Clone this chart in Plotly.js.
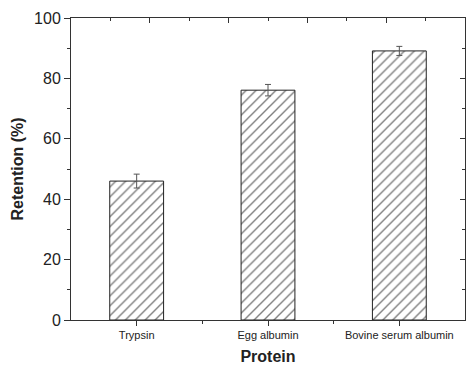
<!DOCTYPE html>
<html>
<head>
<meta charset="utf-8">
<script src="https://cdn.plot.ly/plotly-3.0.1.min.js"></script>
<style>html,body{margin:0;padding:0;background:#fff}#chart{width:466px;height:365px}</style>
</head>
<body>
<div id="chart"></div>
<script>
const categories = ["Trypsin", "Egg albumin", "Bovine serum albumin"];
const retention = [46.0, 76.1, 89.1];
const retentionError = [2.3, 1.9, 1.5];
const yTickStep = 20;

const positions = categories.map((c, i) => i);
const FONT = '"Liberation Sans", Arial, sans-serif';
const AX = '#333333';

const data = [{
  type: 'bar',
  x: positions,
  y: retention,
  width: 0.41,
  marker: {
    color: '#ffffff',
    line: {color: '#222222', width: 1},
    pattern: {shape: '/', fgcolor: '#000000', bgcolor: '#ffffff', size: 7, solidity: 0.2, fillmode: 'overlay'}
  },
  error_y: {type: 'data', array: retentionError, visible: true, color: '#555555', thickness: 1, width: 3},
  hoverinfo: 'skip',
  showlegend: false
}, {
  type: 'scatter', x: [], y: [], xaxis: 'x2', yaxis: 'y2',
  mode: 'markers', hoverinfo: 'skip', showlegend: false
}];

const layout = {
  width: 466, height: 365,
  margin: {l: 71, r: 1, t: 18, b: 45, pad: 0},
  paper_bgcolor: '#ffffff', plot_bgcolor: '#ffffff',
  font: {family: FONT, color: '#222222'},
  showlegend: false,
  xaxis: {
    range: [-0.5, 2.5], fixedrange: true,
    tickmode: 'array', tickvals: positions, ticktext: categories,
    tickfont: {size: 11, family: FONT, color: '#222'},
    ticks: 'outside', ticklen: 5, tickwidth: 1, tickcolor: AX,
    minor: {tickmode: 'array', tickvals: [0.5, 1.5], ticks: 'outside', ticklen: 3, tickwidth: 1, tickcolor: AX},
    showline: true, linecolor: AX, linewidth: 1,
    showgrid: false, zeroline: false,
    title: {text: '<b>Protein</b>', font: {size: 16, family: FONT, color: '#222'}, standoff: 12}
  },
  yaxis: {
    range: [0, 100], fixedrange: true,
    tickmode: 'linear', tick0: 0, dtick: yTickStep,
    tickfont: {size: 16, family: FONT, color: '#222'},
    ticks: 'outside', ticklen: 6, tickwidth: 1, tickcolor: AX,
    minor: {tickmode: 'linear', tick0: 0, dtick: 10, ticks: 'outside', ticklen: 3, tickwidth: 1, tickcolor: AX},
    showline: true, linecolor: AX, linewidth: 1,
    showgrid: false, zeroline: false,
    title: {text: '<b>Retention (%)</b>', font: {size: 16, family: FONT, color: '#222'}, standoff: 6}
  },
  xaxis2: {
    overlaying: 'x', side: 'top', anchor: 'y',
    range: [0, 10], tickmode: 'linear', tick0: 0, dtick: 2, fixedrange: true,
    ticks: 'inside', ticklen: 5, tickwidth: 1, tickcolor: AX,
    minor: {tickmode: 'linear', tick0: 0, dtick: 1, ticks: 'inside', ticklen: 3, tickwidth: 1, tickcolor: AX},
    showticklabels: false, showline: true, linecolor: AX, linewidth: 1,
    showgrid: false, zeroline: false
  },
  yaxis2: {
    overlaying: 'y', side: 'right', anchor: 'x',
    range: [0, 100], tickmode: 'linear', tick0: 0, dtick: 20, fixedrange: true,
    ticks: 'inside', ticklen: 5, tickwidth: 1, tickcolor: AX,
    minor: {tickmode: 'linear', tick0: 0, dtick: 10, ticks: 'inside', ticklen: 3, tickwidth: 1, tickcolor: AX},
    showticklabels: false, showline: true, linecolor: AX, linewidth: 1,
    showgrid: false, zeroline: false
  }
};

Plotly.newPlot('chart', data, layout, {displayModeBar: false, staticPlot: true});
</script>
</body>
</html>
